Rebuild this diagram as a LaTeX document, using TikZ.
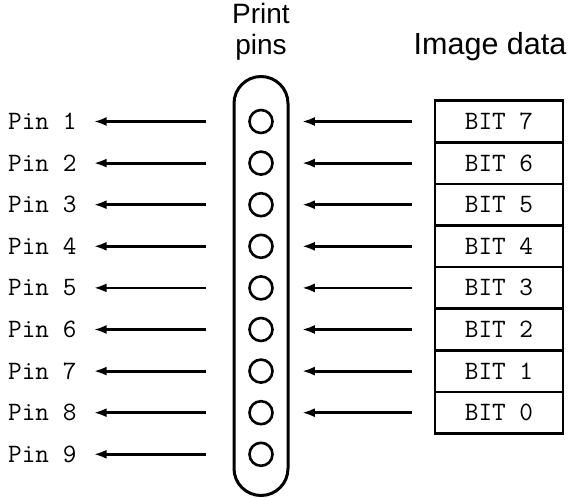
\documentclass[tikz,border=0pt]{standalone}
\usepackage{fontspec}
\setsansfont{Liberation Sans}
\usetikzlibrary{arrows.meta}

\begin{document}
\begin{tikzpicture}[x=1pt, y=-1pt,
  font=\fontsize{26.5}{30}\selectfont\ttfamily,
  hole/.style={draw, circle, line width=2.6pt, minimum size=23pt, inner sep=0pt},
  cell/.style={draw, line width=2.6pt, minimum width=128pt, minimum height=41.6pt,
               inner sep=0pt},
  lbl/.style={font=\fontsize{28}{31}\selectfont\sffamily, align=center, inner sep=0pt},
  arr/.style={-{Latex[length=13pt, width=9pt]}, line width=2.8pt}]
\useasboundingbox (0,0) rectangle (571,498);
% print head
\node[draw, line width=3pt, rounded corners=27pt, minimum width=54pt,
      minimum height=419pt, inner sep=0pt] (head) at (261,286) {};
\node[lbl, anchor=north] (title) at (261,3) {Print\\pins};
\node[lbl, font=\fontsize{30.5}{33}\selectfont\sffamily] (data) at (490,47) {Image data};
% pins and outputs
\foreach \k in {1,...,9} {
  \node[hole] (hole\k) at (261,{121.5+41.6*(\k-1)}) {};
  \node[anchor=west, inner sep=0pt] (pin\k) at (8,{121.5+41.6*(\k-1)}) {Pin \k};
  \draw[arr, shorten <=42pt, shorten >=17pt] (hole\k) -- (pin\k);
}
% image data byte
\foreach \b [count=\k] in {7,...,0} {
  \node[cell] (bit\b) at (499,{121.5+41.6*(\k-1)}) {BIT \b};
  \draw[arr, shorten <=22pt, shorten >=28pt] (bit\b) -- (hole\k);
}
\end{tikzpicture}
\end{document}
